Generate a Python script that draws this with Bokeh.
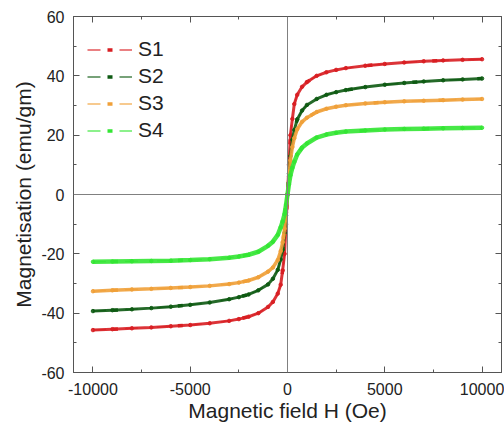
from bokeh.plotting import figure
from bokeh.models import (Range1d, FixedTicker, LinearAxis, Span, Legend, LegendItem,
                          CustomJSTickFormatter)
from bokeh.embed import file_html
from bokeh.resources import INLINE

# Magnetic field H (Oe)
H = [-10000, -9000, -8000, -7000, -6000, -5000, -4000, -3000, -2500, -2000, -1500,
     -1000, -750, -500, -350, -250, -150, -75, 0, 75, 150, 250, 350, 500, 750,
     1000, 1500, 2000, 2500, 3000, 4000, 5000, 6000, 7000, 8000, 9000, 10000]

# Magnetisation (emu/gm)
S1 = [-45.7, -45.4, -45.1, -44.8, -44.4, -44.0, -43.4, -42.6, -42.0, -41.2, -40.0,
      -37.9, -36.2, -33.4, -30.4, -25.6, -20.0, -10.0, 0.0, 10.0, 20.0, 25.5, 30.5,
      33.6, 36.3, 37.9, 40.0, 41.2, 42.0, 42.6, 43.4, 44.0, 44.5, 44.9, 45.2, 45.4, 45.6]
S2 = [-39.3, -39.0, -38.7, -38.3, -37.8, -37.2, -36.4, -35.3, -34.6, -33.7, -32.3,
      -30.3, -28.4, -25.4, -21.9, -18.6, -13.0, -7.0, 0.0, 7.0, 13.0, 18.5, 21.8,
      25.3, 28.3, 30.2, 32.2, 33.6, 34.5, 35.2, 36.2, 37.0, 37.6, 38.1, 38.5, 38.8, 39.1]
S3 = [-32.6, -32.3, -32.0, -31.8, -31.5, -31.2, -30.8, -30.2, -29.7, -29.0, -27.9,
      -26.0, -24.6, -22.1, -19.1, -16.1, -11.5, -6.0, 0.0, 6.0, 11.5, 16.0, 19.0,
      22.0, 24.5, 25.9, 27.8, 28.9, 29.6, 30.1, 30.7, 31.1, 31.4, 31.6, 31.8, 32.0, 32.2]
S4 = [-22.7, -22.6, -22.5, -22.4, -22.3, -22.1, -21.8, -21.3, -20.9, -20.3, -19.3,
      -17.3, -15.9, -13.6, -11.1, -9.1, -6.6, -3.5, 0.0, 3.5, 6.5, 9.0, 11.0,
      13.5, 15.8, 17.2, 19.2, 20.2, 20.8, 21.2, 21.6, 21.9, 22.1, 22.2, 22.3, 22.4, 22.5]

names = ["S1", "S2", "S3", "S4"]
series = [S1, S2, S3, S4]
colors = ["#d81e22", "#0d5a12", "#f0a038", "#33e633"]
widths = [3, 3, 3.5, 4.5]

x_major = [-10000, -5000, 0, 5000, 10000]
x_major_labels = ["-10000", "-5000", "0", "5000", "10000"]
x_minor = [-7500, -2500, 2500, 7500]
y_major = [-60, -40, -20, 0, 20, 40, 60]
y_major_labels = ["-60", "-40", "-20", "0", "20", "40", "60"]
y_minor = [-50, -30, -10, 10, 30, 50]

FONT = "Liberation Sans"

p = figure(width=504, height=428, output_backend="svg", toolbar_location=None,
           x_range=Range1d(-11000, 11000), y_range=Range1d(-60, 60),
           min_border_left=73, min_border_right=3, min_border_top=16,
           min_border_bottom=56, background_fill_color="white",
           border_fill_color="white")
p.xgrid.visible = False
p.ygrid.visible = False
p.outline_line_color = "#555555"

def style_axis(ax, ticks, minor, labels=None):
    ax.ticker = FixedTicker(ticks=ticks, minor_ticks=minor)
    ax.axis_line_color = "#555555"
    ax.major_tick_line_color = "#555555"
    ax.minor_tick_line_color = "#555555"
    ax.major_tick_in = 6
    ax.major_tick_out = 0
    ax.minor_tick_in = 3
    ax.minor_tick_out = 0
    ax.major_label_text_font = FONT
    ax.axis_label_text_font = FONT
    ax.axis_label_text_font_style = "normal"
    ax.major_label_text_color = "#222222"
    ax.axis_label_text_color = "#222222"
    ax.major_label_text_font_size = "16px"
    ax.axis_label_text_font_size = "21px"
    if labels is not None:
        ax.major_label_overrides = {t: s for t, s in zip(ticks, labels)}
    else:
        ax.formatter = CustomJSTickFormatter(code="return ''")
        ax.major_label_text_font_size = "1px"
        ax.major_label_standoff = 0

style_axis(p.xaxis[0], x_major, x_minor, x_major_labels)
style_axis(p.yaxis[0], y_major, y_minor, y_major_labels)
p.xaxis[0].axis_label = "Magnetic field H (Oe)"
p.yaxis[0].axis_label = "Magnetisation (emu/gm)"
p.xaxis[0].major_label_standoff = 10
p.xaxis[0].axis_label_standoff = 1
p.yaxis[0].major_label_standoff = 9
p.yaxis[0].axis_label_standoff = 3

top_ax = LinearAxis()
style_axis(top_ax, x_major, x_minor)
p.add_layout(top_ax, "above")
right_ax = LinearAxis()
style_axis(right_ax, y_major, y_minor)
p.add_layout(right_ax, "right")

p.add_layout(Span(location=0, dimension="height", line_color="#808080", line_width=1))
p.add_layout(Span(location=0, dimension="width", line_color="#808080", line_width=1))

items = []
for name, s, c, w in zip(names, series, colors, widths):
    # thin dashed copy and a dot-dash copy (hidden under the thick curve)
    # serve as the legend glyph "— • —"
    dl = p.line(H, s, line_color=c, line_width=1.3, line_dash="13 19", line_alpha=0.75)
    dd = p.line(H, s, line_color=c, line_width=3.5, line_dash="0 20 5 40")
    p.line(H, s, line_color=c, line_width=w, line_alpha=0.9)
    p.scatter(H, s, size=3.5, color=c, alpha=0.9)
    items.append(LegendItem(label=name, renderers=[dl, dd]))

legend = Legend(items=items, location=(14, 230), padding=0, margin=0,
                spacing=3, label_height=23, glyph_height=23, glyph_width=45,
                label_standoff=6, label_text_font=FONT, label_text_font_size="21px",
                label_text_color="#222222", background_fill_alpha=0,
                border_line_alpha=0)
p.add_layout(legend, "center")

open("out.html", "w").write(file_html(p, INLINE))
